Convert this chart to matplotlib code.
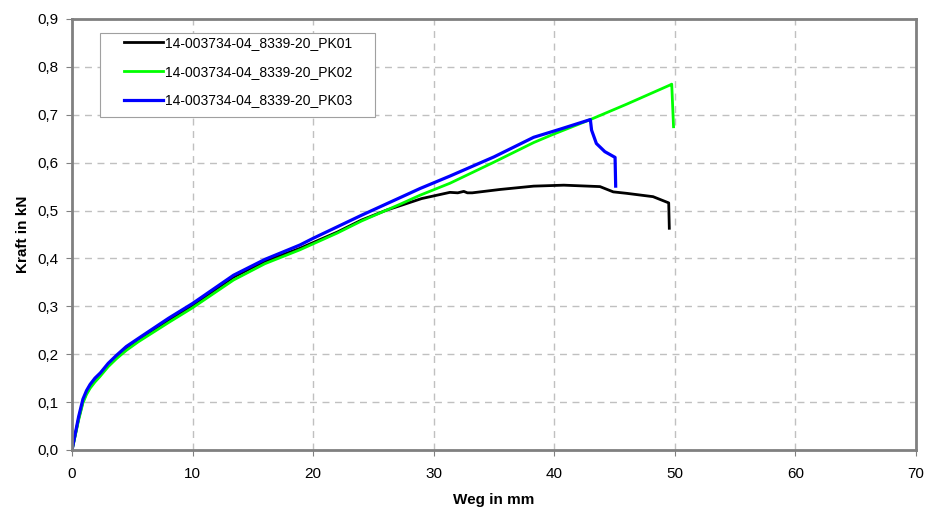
import matplotlib.pyplot as plt
from matplotlib.patches import Rectangle
from matplotlib.ticker import FuncFormatter, MultipleLocator

plt.rcParams["font.family"] = ["Liberation Sans", "DejaVu Sans"]

labels = ["14-003734-04_8339-20_PK01", "14-003734-04_8339-20_PK02", "14-003734-04_8339-20_PK03"]

# PK01 (black)
x1 = [0, 0.25, 0.55, 0.9, 1.2, 1.5, 1.9, 2.3, 3.0, 3.7, 4.5, 5.5, 8, 10, 13.4, 16, 18.9, 22,
      24, 26.1, 27.2, 29, 31.35, 32.0, 32.5, 32.8, 33.2, 35.5, 38.3, 40.8, 43.8, 44.9, 46,
      48.2, 49.5, 49.55]
y1 = [0, 0.03, 0.066, 0.101, 0.119, 0.132, 0.146, 0.157, 0.178, 0.195, 0.213, 0.230, 0.271,
      0.302, 0.361, 0.394, 0.421, 0.455, 0.480, 0.501, 0.510, 0.525, 0.538, 0.537, 0.540,
      0.537, 0.537, 0.544, 0.551, 0.553, 0.550, 0.539, 0.536, 0.529, 0.516, 0.463]

# PK02 (green)
x2 = [0, 0.25, 0.55, 0.9, 1.2, 1.5, 1.9, 2.3, 3.0, 3.7, 4.5, 5.5, 8, 10, 13.4, 16, 18.9, 22,
      24, 26.1, 27.2, 28.87, 31.35, 35, 38.3, 39.9, 43, 46, 49.6, 49.75, 49.9]
y2 = [0, 0.028, 0.063, 0.098, 0.116, 0.129, 0.142, 0.153, 0.174, 0.191, 0.208, 0.226, 0.266,
      0.297, 0.355, 0.389, 0.418, 0.453, 0.478, 0.501, 0.513, 0.532, 0.557, 0.601, 0.642,
      0.659, 0.690, 0.722, 0.762, 0.764, 0.675]

# PK03 (blue)
x3 = [0, 0.25, 0.55, 0.9, 1.2, 1.5, 1.9, 2.35, 3.0, 3.7, 4.5, 5.5, 8, 10, 13.4, 16, 18.9,
      20, 24, 28.87, 31.35, 35, 38.3, 40.5, 43.0, 43.1, 43.5, 44.2, 45.05, 45.1]
y3 = [0, 0.032, 0.07, 0.106, 0.124, 0.137, 0.150, 0.161, 0.181, 0.198, 0.216, 0.233, 0.275,
      0.306, 0.365, 0.398, 0.428, 0.442, 0.490, 0.546, 0.572, 0.612, 0.653, 0.670, 0.690,
      0.668, 0.640, 0.623, 0.611, 0.551]

fig = plt.figure(figsize=(9.26, 5.12), dpi=100)
ax = fig.add_axes([0.0778, 0.1211, 0.9112, 0.8418])

ax.plot(x1, y1, color="black", linewidth=2, label=labels[0])
ax.plot(x2, y2, color="#00ff00", linewidth=2, label=labels[1])
ax.plot(x3, y3, color="#0000ff", linewidth=2.3, label=labels[2])

ax.set_xlim(0, 70)
ax.set_ylim(0, 0.9)
ax.xaxis.set_major_locator(MultipleLocator(10))
ax.yaxis.set_major_locator(MultipleLocator(0.1))
ax.yaxis.set_major_formatter(FuncFormatter(lambda v, p: f"{v:.1f}".replace(".", ",")))

ax.grid(True, color="#c0c0c0", linestyle=(0, (5, 4)), linewidth=1)
ax.set_axisbelow(True)
for s in ax.spines.values():
    s.set_color("#808080")
    s.set_linewidth(2)
ax.tick_params(direction="out", length=4, color="#808080", labelsize=11, labelcolor="black")
ax.tick_params(axis="x", pad=8)
ax.tick_params(axis="y", pad=6)

ax.set_xlabel("Weg in mm", fontsize=11, fontweight="bold", labelpad=9)
ax.set_ylabel("Kraft in kN", fontsize=11, fontweight="bold", labelpad=5)

# legend box (frame drawn separately, text padding is wider sideways than vertically)
ax.add_patch(Rectangle((0.0332, 0.7727), 0.3258, 0.1949, transform=ax.transAxes,
                       facecolor="white", edgecolor="#a0a0a0", linewidth=0.8, zorder=4))
leg = ax.legend(loc="upper left", bbox_to_anchor=(0.0616, 0.96), borderaxespad=0,
                frameon=False, fontsize=10, handlelength=2.8, handletextpad=0.15,
                labelspacing=1.05, borderpad=0)
leg.set_zorder(5)

plt.savefig("out.png", dpi=100)
